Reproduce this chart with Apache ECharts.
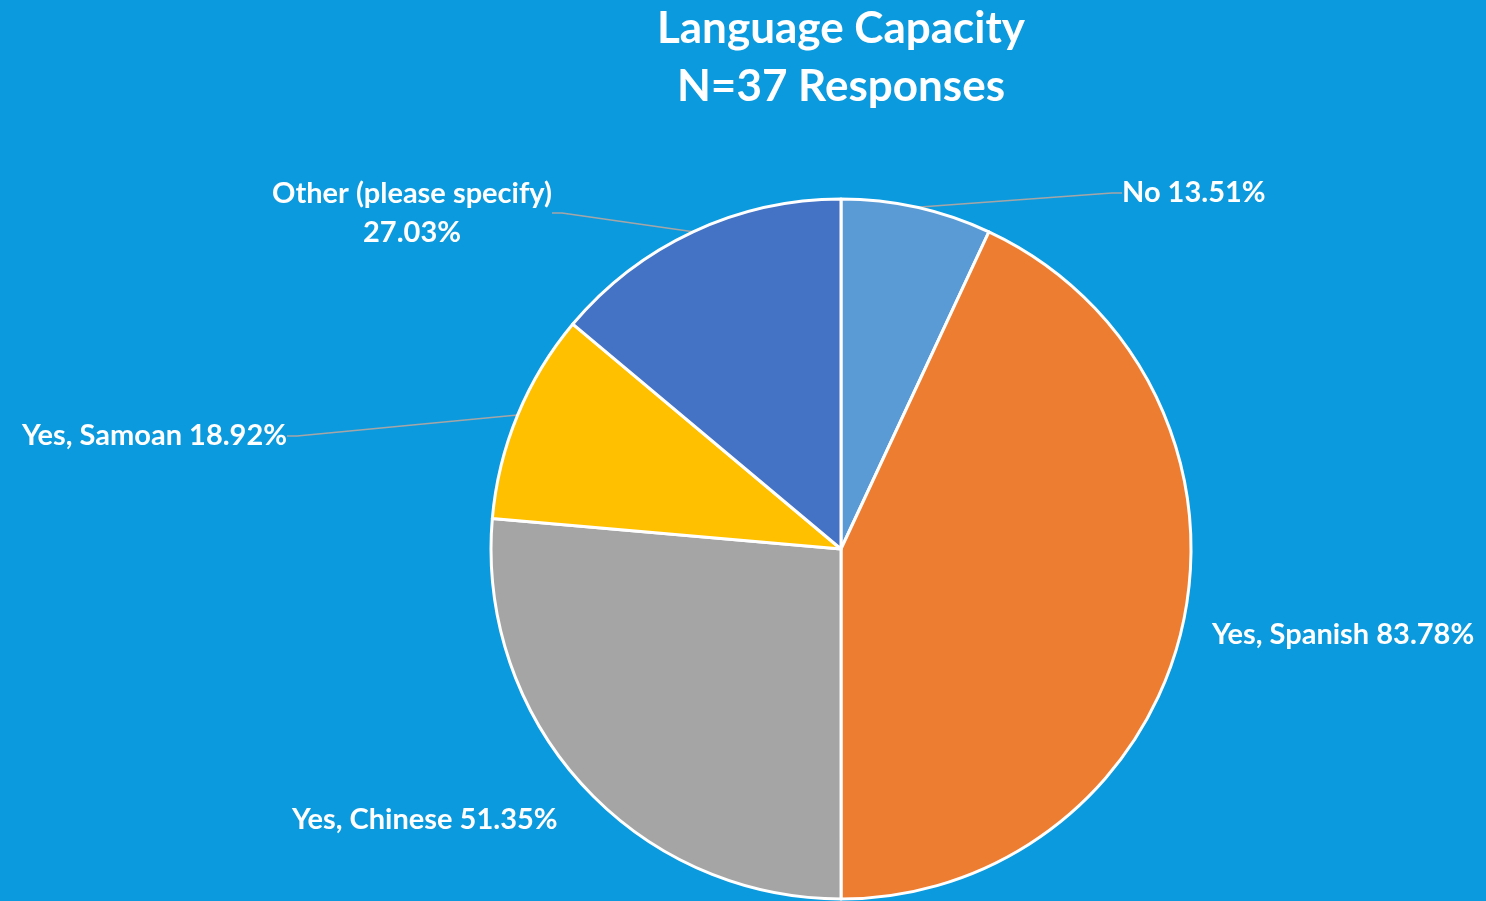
<!DOCTYPE html>
<html><head><meta charset="utf-8">
<script src="https://cdn.jsdelivr.net/npm/echarts@6/dist/echarts.min.js"></script>
<style>html,body{margin:0;padding:0;background:#0B9ADE;}#c{width:1486px;height:901px;}</style>
</head><body><div id="c"></div>
<script>
const categories = ['No', 'Yes, Spanish', 'Yes, Chinese', 'Yes, Samoan', 'Other (please specify)'];
const values = [13.51, 83.78, 51.35, 18.92, 27.03];
const colors = ['#5B9BD5', '#ED7D31', '#A5A5A5', '#FFC000', '#4472C4'];
const titleLines = ['Language Capacity', 'N=37 Responses'];

// label anchor placements (layout only)
const labelPos = [
  {x: 1122, y: 193, align: 'left'},
  {x: 1212, y: 635, align: 'left'},
  {x: 292, y: 820, align: 'left'},
  {x: 287, y: 436, align: 'right'},
  {x: 412, y: 213, align: 'center'}
];
const showLine = [true, false, false, true, true];

const chart = echarts.init(document.getElementById('c'));
const font = 'Lato, "Open Sans", sans-serif';
chart.setOption({
  backgroundColor: '#0B9ADE',
  title: {
    text: titleLines.join('\n'),
    left: 836, top: -5,
    textAlign: 'center',
    textStyle: {color: '#fff', fontFamily: font, fontWeight: 'bold', fontSize: 44, lineHeight: 58}
  },
  series: [{
    type: 'pie',
    center: [841, 549],
    radius: [0, 350],
    startAngle: 90,
    clockwise: true,
    animation: false,
    itemStyle: {borderColor: '#fff', borderWidth: 3},
    label: {
      show: true,
      color: '#fff',
      fontFamily: font,
      fontWeight: 'bold',
      fontSize: 29,
      lineHeight: 39,
      overflow: 'none',
      formatter: p => {
        const v = p.value.toFixed(2) + '%';
        return p.dataIndex === 4 ? p.name + '\n' + v : p.name + ' ' + v;
      }
    },
    labelLine: {show: true, length: 20, length2: 10, lineStyle: {color: '#A6A6A6', width: 1.5}},
    labelLayout: p => {
      const lp = labelPos[p.dataIndex];
      return {x: lp.x, y: lp.y, align: lp.align, verticalAlign: 'middle'};
    },
    data: categories.map((c, i) => ({
      name: c, value: values[i],
      itemStyle: {color: colors[i]},
      labelLine: {show: showLine[i]}
    }))
  }]
});
</script></body></html>
